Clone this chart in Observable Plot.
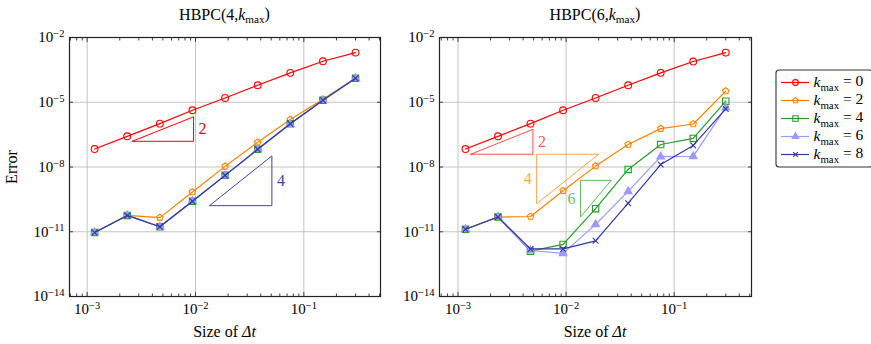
<!DOCTYPE html>
<html><head><meta charset="utf-8">
<script src="https://cdn.jsdelivr.net/npm/d3@7"></script>
<script src="https://cdn.jsdelivr.net/npm/@observablehq/plot@0.6"></script>
<style>
body{margin:0;background:#fff;}
#root{position:relative;width:871px;height:344px;font-family:"Liberation Serif",serif;}
#root svg{position:absolute;top:0;}
</style></head><body><div id="root"></div>
<script>
// ---- data ----
const dt = [0.001171875, 0.00234375, 0.0046875, 0.009375, 0.01875, 0.0375, 0.075, 0.15, 0.3];
const kLabels = ["0", "2", "4", "6", "8"];
const colors = ["#ff0000", "#ff8000", "#22a022", "#9a9aff", "#3535a5"];
const panelTitles = ["4", "6"];

const left_k0 = [6.8e-8, 2.64e-7, 1.02e-6, 4.25e-6, 1.58e-5, 6.1e-5, 2.3e-4, 7.9e-4, 2.0e-3];
const left_k2 = [9.3e-12, 5.7e-11, 4.5e-11, 6.9e-10, 1.07e-8, 1.39e-7, 1.58e-6, 1.38e-5, 1.3e-4];
const left_k4 = [9.3e-12, 5.7e-11, 1.7e-11, 2.6e-10, 4.1e-9, 6.6e-8, 1.0e-6, 1.23e-5, 1.3e-4];
const left_k6 = [9.3e-12, 5.7e-11, 1.7e-11, 2.6e-10, 4.1e-9, 6.6e-8, 1.0e-6, 1.23e-5, 1.3e-4];
const left_k8 = [9.3e-12, 5.7e-11, 1.7e-11, 2.6e-10, 4.1e-9, 6.6e-8, 1.0e-6, 1.23e-5, 1.3e-4];

const right_k0 = [6.8e-8, 2.64e-7, 1.02e-6, 4.25e-6, 1.58e-5, 6.1e-5, 2.3e-4, 7.7e-4, 2.0e-3];
const right_k2 = [1.3e-11, 4.8e-11, 5.1e-11, 7.9e-10, 1.1e-8, 1.1e-7, 6.0e-7, 9.8e-7, 3.3e-5];
const right_k4 = [1.3e-11, 4.8e-11, 1.26e-12, 2.6e-12, 1.17e-10, 7.7e-9, 1.1e-7, 2.1e-7, 1.12e-5];
const right_k6 = [1.3e-11, 4.8e-11, 1.35e-12, 1.0e-12, 2.2e-11, 7.4e-10, 3.0e-8, 3.1e-8, 5.6e-6];
const right_k8 = [1.3e-11, 4.8e-11, 1.6e-12, 1.6e-12, 3.8e-12, 2.1e-10, 1.3e-8, 1.0e-7, 4.9e-6];

// slope triangles: x1, x2, anchor y, order, corner
const left_tri = [
  {x1: 2.6e-3, x2: 9.6e-3, y0: 1.55e-7, p: 2, corner: "br", color: "#ff0000", op: 1},
  {x1: 0.01346, x2: 0.0507, y0: 1.62e-10, p: 4, corner: "br", color: "#4444aa", op: 1}
];
const right_tri = [
  {x1: 1.31e-3, x2: 4.93e-3, y0: 3.9e-8, p: 2, corner: "br", color: "#ff0000", op: 0.7},
  {x1: 5.34e-3, x2: 0.02, y0: 3.9e-8, p: 4, corner: "tl", color: "#ff8000", op: 0.7},
  {x1: 0.0136, x2: 0.0261, y0: 2.4e-9, p: 6, corner: "tl", color: "#22a022", op: 0.7}
];

const yTicks = [1e-14, 1e-11, 1e-8, 1e-5, 1e-2];
const xTicks = [1e-3, 1e-2, 1e-1];

// ---- helpers ----
const FONT = "'Liberation Serif', serif";
const pentagon = {
  draw(ctx, size) {
    const r = Math.sqrt(size / Math.PI) * 1.05;
    for (let i = 0; i < 5; i++) {
      const a = -Math.PI / 2 + i * 2 * Math.PI / 5;
      const x = r * Math.cos(a), y = r * Math.sin(a);
      i ? ctx.lineTo(x, y) : ctx.moveTo(x, y);
    }
    ctx.closePath();
  }
};
const markers = [
  {symbol: "circle", r: 3.4, fill: "none"},
  {symbol: pentagon, r: 3.2, fill: "none"},
  {symbol: "square", r: 3.6, fill: "none"},
  {symbol: "triangle", r: 2.9, fill: "fill"},
  {symbol: "times", r: 2.7, fill: "none"}
];

function minorTicks(domain) {
  const out = [];
  for (let e = -4; e <= 0; e++) for (let d = 2; d <= 9; d++) {
    const v = d * Math.pow(10, e);
    if (v > domain[0] && v < domain[1]) out.push(v);
  }
  return out;
}
const SVGNS = "http://www.w3.org/2000/svg";
function tspan(parent, text, attrs = {}) {
  const t = document.createElementNS(SVGNS, "tspan");
  for (const k in attrs) t.setAttribute(k, attrs[k]);
  t.textContent = text;
  parent.appendChild(t);
  return t;
}
function kmaxRich(el, prefix, suffix) {
  el.textContent = "";
  if (prefix) tspan(el, prefix);
  tspan(el, "k", {"font-style": "italic"});
  tspan(el, "max", {"font-size": "70%", dy: "0.28em"});
  tspan(el, suffix, {dy: "-0.28em"});
}
function supTicks(svg) {
  svg.querySelectorAll("text").forEach(t => {
    const m = /^10\^(-?\d+)$/.exec(t.textContent);
    if (!m) return;
    t.textContent = "";
    tspan(t, "10");
    tspan(t, m[1].replace("-", "\u2212"), {"font-size": "70%", dy: "-0.5em"});
  });
}
function serifAll(svg) {
  svg.style.setProperty("font-family", FONT, "important");
  svg.querySelectorAll("g, text, tspan").forEach(el => {
    el.removeAttribute("font-family");
    el.style.setProperty("font-family", FONT, "important");
  });
}
function triPath(t) {
  const r = Math.pow(t.x2 / t.x1, t.p);
  if (t.corner === "br")
    return [[t.x1, t.y0], [t.x2, t.y0], [t.x2, t.y0 * r], [t.x1, t.y0]];
  return [[t.x2, t.y0], [t.x1, t.y0], [t.x1, t.y0 / r], [t.x2, t.y0]];
}
function triLabel(t) {
  const r = Math.pow(t.x2 / t.x1, t.p);
  if (t.corner === "br")
    return {x: t.x2, y: t.y0 * Math.sqrt(r), anchor: "start", dx: 5, text: String(t.p), color: t.color, op: t.op};
  return {x: t.x1, y: t.y0 / Math.sqrt(r), anchor: "end", dx: -5, text: String(t.p), color: t.color, op: t.op};
}

function panel(series, tris, xDomain, opts) {
  const marks = [];
  marks.push(Plot.gridX(xTicks, {stroke: "#c4c4c4", strokeOpacity: 1, strokeWidth: 1}));
  marks.push(Plot.gridY(yTicks, {stroke: "#c4c4c4", strokeOpacity: 1, strokeWidth: 1}));
  const minors = minorTicks(xDomain);
  for (const anchor of ["bottom", "top"]) {
    marks.push(Plot.axisX(xTicks, {anchor, tickSize: -4, tickFormat: () => "", label: null, stroke: "#444"}));
    marks.push(Plot.axisX(minors, {anchor, tickSize: -2.5, tickFormat: () => "", label: null, stroke: "#444"}));
  }
  for (const anchor of ["left", "right"]) {
    marks.push(Plot.axisY(yTicks, {anchor, tickSize: -4, tickFormat: () => "", label: null, stroke: "#444"}));
  }
  marks.push(Plot.axisX(xTicks, {anchor: "bottom", tickSize: 0, tickPadding: 7, fontSize: 15,
    tickFormat: d => "10^" + Math.round(Math.log10(d)), label: null, fill: "#000"}));
  marks.push(Plot.axisY(yTicks, {anchor: "left", tickSize: 0, tickPadding: 5, fontSize: 15,
    tickFormat: d => "10^" + Math.round(Math.log10(d)), label: null, fill: "#000"}));
  // slope triangles
  tris.forEach(t => {
    const pts = triPath(t).map(([x, y]) => ({x, y}));
    marks.push(Plot.line(pts, {x: "x", y: "y", stroke: t.color, strokeOpacity: t.op, strokeWidth: 1}));
  });
  const labs = tris.map(triLabel);
  labs.forEach(l => {
    marks.push(Plot.text([l], {x: "x", y: "y", text: "text", textAnchor: l.anchor, dx: l.dx,
      fill: l.color, fillOpacity: l.op, fontSize: 16}));
  });
  // series
  series.forEach((vals, i) => {
    const rows = vals.map((e, j) => ({dt: dt[j], err: e}));
    marks.push(Plot.line(rows, {x: "dt", y: "err", stroke: colors[i], strokeWidth: 1.2}));
    const mk = markers[i];
    marks.push(Plot.dot(rows, {x: "dt", y: "err", symbol: mk.symbol, r: mk.r,
      stroke: colors[i], strokeWidth: 1.1, fill: mk.fill === "fill" ? colors[i] : "none"}));
  });
  marks.push(Plot.frame({stroke: "#222", strokeWidth: 1.2}));
  const svg = Plot.plot({
    width: opts.width, height: 344,
    marginLeft: opts.ml, marginRight: opts.mr, marginTop: 37, marginBottom: 48,
    style: {background: "transparent", overflow: "visible"},
    x: {type: "log", domain: xDomain, axis: null},
    y: {type: "log", domain: [1e-14, 1e-2], axis: null},
    marks
  });
  svg.style.left = opts.left + "px";
  supTicks(svg);
  // title
  const cx = opts.ml + (opts.width - opts.ml - opts.mr) / 2;
  const title = document.createElementNS(SVGNS, "text");
  title.setAttribute("x", cx); title.setAttribute("y", 20);
  title.setAttribute("text-anchor", "middle"); title.setAttribute("font-size", 16);
  title.setAttribute("fill", "#000");
  kmaxRich(title, "HBPC(" + opts.title + ",", ")");
  svg.appendChild(title);
  const xl = document.createElementNS(SVGNS, "text");
  xl.setAttribute("x", cx); xl.setAttribute("y", 336.5);
  xl.setAttribute("text-anchor", "middle"); xl.setAttribute("font-size", 16);
  tspan(xl, "Size of ");
  tspan(xl, "\u0394t", {"font-style": "italic"});
  svg.appendChild(xl);
  if (opts.ylabel) {
    const yl = document.createElementNS(SVGNS, "text");
    yl.setAttribute("transform", "translate(17,167) rotate(-90)");
    yl.setAttribute("text-anchor", "middle"); yl.setAttribute("font-size", 16);
    yl.textContent = "Error";
    svg.appendChild(yl);
  }
  serifAll(svg);
  return svg;
}

const root = document.getElementById("root");
root.appendChild(panel([left_k0, left_k2, left_k4, left_k6, left_k8], left_tri, [6.87e-4, 0.51],
  {width: 390, ml: 69, mr: 10, left: 0, title: panelTitles[0], ylabel: true}));
root.appendChild(panel([right_k0, right_k2, right_k4, right_k6, right_k8], right_tri, [6.74e-4, 0.519],
  {width: 381, ml: 59, mr: 10, left: 380, title: panelTitles[1], ylabel: false}));

// ---- legend ----
const legendRows = kLabels.map((k, i) => ({k, i}));
const leg = Plot.plot({
  width: 97, height: 98, margin: 0,
  style: {background: "transparent", overflow: "visible"},
  x: {type: "identity", axis: null},
  y: {type: "point", domain: kLabels, range: [12, 85.5], padding: 0, axis: null},
  marks: [
    Plot.frame({stroke: "#333", strokeWidth: 1.1, rx: 3, inset: 0.5}),
    Plot.ruleY(legendRows, {y: "k", x1: 6, x2: 34, stroke: d => colors[d.i], strokeWidth: 1.2}),
    ...legendRows.map(d => Plot.dot([d], {x: 20, y: "k", symbol: markers[d.i].symbol,
      r: markers[d.i].r * 0.85, stroke: colors[d.i], strokeWidth: 1.1,
      fill: markers[d.i].fill === "fill" ? colors[d.i] : "none"})),
    Plot.text(legendRows, {x: 38, y: "k", text: d => "kmax = " + d.k, textAnchor: "start",
      fontSize: 15.5, fill: "#000"})
  ]
});
leg.style.left = "775px";
leg.style.top = "69px";
leg.querySelectorAll("text").forEach(t => {
  const m = /^kmax = (\d)$/.exec(t.textContent);
  if (m) kmaxRich(t, "", " = " + m[1]);
});
serifAll(leg);
root.appendChild(leg);
</script></body></html>
